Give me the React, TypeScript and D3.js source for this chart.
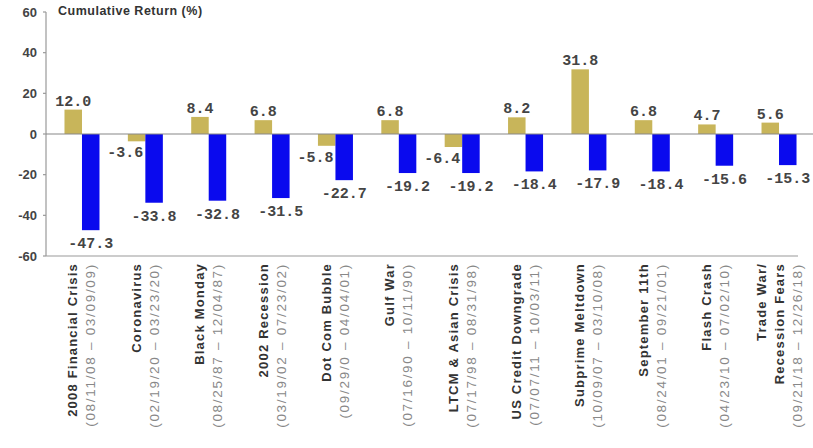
import React from "react";
import * as d3 from "d3";

const categories = [
  "2008 Financial Crisis",
  "Coronavirus",
  "Black Monday",
  "2002 Recession",
  "Dot Com Bubble",
  "Gulf War",
  "LTCM & Asian Crisis",
  "US Credit Downgrade",
  "Subprime Meltdown",
  "September 11th",
  "Flash Crash",
  "Trade War/ Recession Fears",
];
const nameLines = [
  ["2008 Financial Crisis"],
  ["Coronavirus"],
  ["Black Monday"],
  ["2002 Recession"],
  ["Dot Com Bubble"],
  ["Gulf War"],
  ["LTCM  & Asian Crisis"],
  ["US Credit Downgrade"],
  ["Subprime Meltdown"],
  ["September 11th"],
  ["Flash Crash"],
  ["Trade War/", "Recession Fears"],
];
const dateRanges = [
  "(08/11/08 – 03/09/09)",
  "(02/19/20 – 03/23/20)",
  "(08/25/87 – 12/04/87)",
  "(03/19/02 – 07/23/02)",
  "(09/29/0 – 04/04/01)",
  "(07/16/90 – 10/11/90)",
  "(07/17/98 – 08/31/98)",
  "(07/07/11 – 10/03/11)",
  "(10/09/07 – 03/10/08)",
  "(08/24/01 – 09/21/01)",
  "(04/23/10 – 07/02/10)",
  "(09/21/18 – 12/26/18)",
];
const goldValues = [12.0, -3.6, 8.4, 6.8, -5.8, 6.8, -6.4, 8.2, 31.8, 6.8, 4.7, 5.6];
const blueValues = [-47.3, -33.8, -32.8, -31.5, -22.7, -19.2, -19.2, -18.4, -17.9, -18.4, -15.6, -15.3];
const yTicks = [60, 40, 20, 0, -20, -40, -60];

const GOLD = "#C8B55A";
const BLUE = "#0A0AEE";

export default function App() {
  const W = 813;
  const H = 448;
  const axisX = 46;
  const y = d3.scaleLinear().domain([-60, 60]).range([256, 12]);
  const x = d3.scaleBand<string>().domain(categories).range([50.3, 810.7]).padding(0);
  const bw = 17.5;
  const labelFont = "'Liberation Mono', 'DejaVu Sans Mono', monospace";
  const sans = "'Liberation Sans', Arial, sans-serif";

  return (
    <svg width={W} height={H} style={{ position: "absolute", left: 0, top: 0, background: "#fff" }}>
      {/* y axis */}
      <line x1={axisX} x2={axisX} y1={y(60)} y2={y(-60)} stroke="#999" strokeWidth={1.2} />
      {yTicks.map((t) => (
        <g key={t}>
          <line x1={axisX - 3} x2={axisX} y1={y(t)} y2={y(t)} stroke="#999" strokeWidth={1.2} />
          <text x={37} y={y(t) + 4.5} textAnchor="end" fontFamily={sans} fontWeight="bold" fontSize={13} fill="#444">
            {t}
          </text>
        </g>
      ))}
      <line x1={axisX} x2={798} y1={y(-60)} y2={y(-60)} stroke="#999" strokeWidth={1.2} />
      <text x={58} y={15} fontFamily={sans} fontWeight="bold" fontSize={12.5} letterSpacing={0.5} fill="#333">
        Cumulative Return (%)
      </text>

      {categories.map((c, i) => {
        const cx = (x(c) as number) + x.bandwidth() / 2;
        const g = goldValues[i];
        const b = blueValues[i];
        const lines = [...nameLines[i], dateRanges[i]];
        const spacing = 18;
        const startX = cx - ((lines.length - 1) * spacing) / 2;
        return (
          <g key={c}>
            <rect x={cx - bw} y={Math.min(y(g), y(0))} width={bw} height={Math.abs(y(g) - y(0))} fill={GOLD} />
            <rect x={cx} y={y(0)} width={bw} height={Math.abs(y(b) - y(0))} fill={BLUE} />
            {g >= 0 ? (
              <text x={cx - bw / 2} y={y(g) - 4} textAnchor="middle" fontFamily={labelFont} fontWeight="bold" fontSize={15} fill="#444">
                {g.toFixed(1)}
              </text>
            ) : (
              <text x={cx - 2} y={y(g) + 16} textAnchor="end" fontFamily={labelFont} fontWeight="bold" fontSize={15} fill="#444">
                {g.toFixed(1)}
              </text>
            )}
            <text x={cx + bw / 2} y={y(b) + 18} textAnchor="middle" fontFamily={labelFont} fontWeight="bold" fontSize={15} fill="#444">
              {b.toFixed(1)}
            </text>
            {lines.map((ln, j) => {
              const isDate = j === lines.length - 1;
              const lx = startX + j * spacing + 4.5;
              return (
                <text
                  key={j}
                  transform={`translate(${lx},263) rotate(-90)`}
                  textAnchor="end"
                  fontFamily={sans}
                  fontWeight={isDate ? "normal" : "bold"}
                  fontSize={isDate ? 13.5 : 13}
                  letterSpacing={isDate ? 1.7 : 1.2}
                  fill={isDate ? "#888" : "#333"}
                >
                  {ln}
                </text>
              );
            })}
          </g>
        );
      })}
      {/* zero line */}
      <line x1={axisX} x2={W} y1={y(0)} y2={y(0)} stroke="#888" strokeWidth={1.2} />
    </svg>
  );
}
